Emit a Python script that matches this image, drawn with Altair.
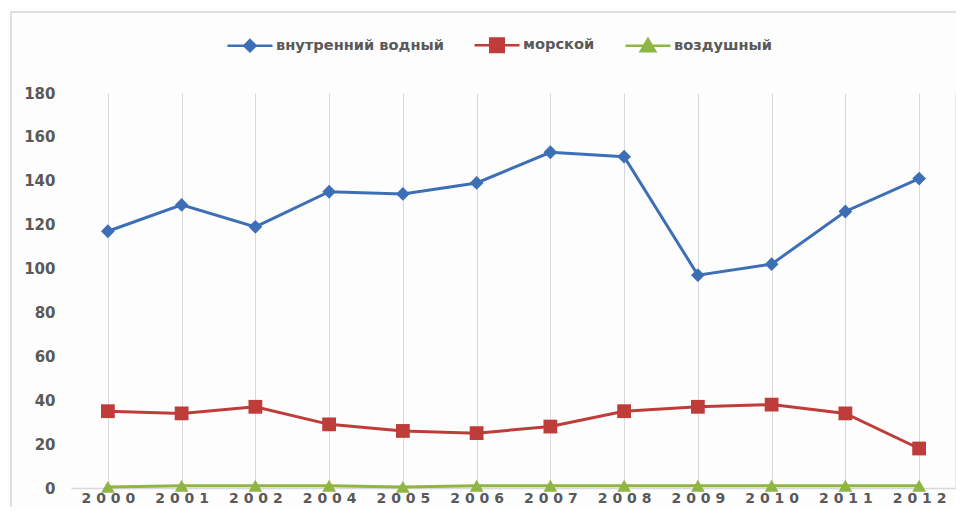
import altair as alt
import pandas as pd

years = ["2000", "2001", "2002", "2004", "2005", "2006", "2007", "2008", "2009", "2010", "2011", "2012"]
series_names = ["внутренний водный", "морской", "воздушный"]
inland = [117, 129, 119, 135, 134, 139, 153, 151, 97, 102, 126, 141]
sea = [35, 34, 37, 29, 26, 25, 28, 35, 37, 38, 34, 18]
air = [0.5, 1, 1, 1, 0.5, 1, 1, 1, 1, 1, 1, 1]
colors = ["#3d6fb6", "#be3c3a", "#8fb542"]
marker_shapes = ["diamond", "square", "triangle-up"]

rows = []
for name, vals in zip(series_names, [inland, sea, air]):
    for y, v in zip(years, vals):
        rows.append({"year": y, "series": name, "value": v})
df = pd.DataFrame(rows)

W, H = 885, 395
GRID = "#d9d9d9"
LABEL = "#595959"


def f(v):
    return f"{v:.3f}"


def diamond_path(ks, h):
    return "".join(f"M0,{f(-h*k)}L{f(h*k)},0L0,{f(h*k)}L{f(-h*k)},0Z" for k in ks)


def square_path(ks, h):
    return "".join(f"M{f(-h*k)},{f(-h*k)}H{f(h*k)}V{f(h*k)}H{f(-h*k)}Z" for k in ks)


def tri_path(ks, top, bot, hw, cy):
    out = ""
    for k in ks:
        out += (f"M0,{f(cy + (top - cy)*k)}L{f(hw*k)},{f(cy + (bot - cy)*k)}"
                f"H{f(-hw*k)}Z")
    return out


ks = [1.0, 0.7, 0.4, 0.12]
legend_paths = [
    "M-1,0H1" + diamond_path(ks, 0.25),
    "M-1,0H1" + square_path([1.0, 0.72, 0.44, 0.16], 0.30),
    "M-1,0H1" + tri_path(ks, -0.30, 0.24, 0.32, 0.06),
]

legend = alt.Legend(
    title=None, orient="none", direction="horizontal", legendX=155, legendY=-72,
    padding=0, symbolSize=2025, symbolStrokeWidth=2.5, columnPadding=25, labelOffset=2,
    labelFont="DejaVu Sans", labelFontSize=14.6, labelFontWeight="bold", labelColor=LABEL,
    labelLimit=400,
)
cscale = alt.Scale(domain=series_names, range=colors)

x = alt.X("year:O", sort=years, title=None,
          scale=alt.Scale(paddingInner=0, paddingOuter=0),
          axis=alt.Axis(labelAngle=0, ticks=False, domainColor=GRID, domainWidth=1.5,
                        grid=True, gridColor=GRID, gridWidth=1, bandPosition=0,
                        labelFont="DejaVu Sans", labelFontSize=14, labelFontWeight="bold",
                        labelColor=LABEL, labelPadding=3,
                        labelExpr="join(split(datum.label, ''), ' ')"))
y = alt.Y("value:Q", title=None, scale=alt.Scale(domain=[0, 180], nice=False),
          axis=alt.Axis(values=list(range(0, 181, 20)), grid=False, domain=False, ticks=False,
                        labelFont="DejaVu Sans", labelFontSize=15, labelFontWeight="bold",
                        labelColor=LABEL, labelPadding=16))

base = alt.Chart(df)
color_nolegend = alt.Color("series:N", scale=cscale, legend=None)
lines = base.mark_line(strokeWidth=3).encode(x=x, y=y, color=color_nolegend, detail="series:N")

point_layers = []
for name, shp in zip(series_names, marker_shapes):
    point_layers.append(
        base.transform_filter(alt.datum.series == name)
        .mark_point(filled=True, opacity=1, size=190, shape=shp)
        .encode(x=x, y=y, color=color_nolegend)
    )

legend_layer = base.mark_point(
    filled=True, size=2025, strokeWidth=2.5
).encode(
    x=x, y=y,
    fill=alt.Fill("series:N", scale=cscale, legend=legend),
    stroke=alt.Stroke("series:N", scale=cscale, legend=legend),
    shape=alt.Shape("series:N", scale=alt.Scale(domain=series_names, range=legend_paths), legend=legend),
    opacity=alt.value(0),
)

one = pd.DataFrame({"a": [0]})
right_rule = alt.Chart(one).mark_rule(color=GRID, strokeWidth=1).encode(
    x=alt.value(W), y=alt.value(0), y2=alt.value(H))
frame_left = alt.Chart(one).mark_rule(color="#d4d4d4", strokeWidth=1.5).encode(
    x=alt.value(-60), y=alt.value(-81), y2=alt.value(H + 40))
frame_top = alt.Chart(one).mark_rule(color="#d4d4d4", strokeWidth=1.5).encode(
    x=alt.value(-60), x2=alt.value(W + 20), y=alt.value(-81))

chart = alt.layer(legend_layer, right_rule, frame_left, frame_top, lines, *point_layers).properties(
    width=W, height=H,
    autosize=alt.AutoSizeParams(type="none"),
    padding={"left": 63, "top": 85, "right": 0, "bottom": 19},
    background="#fdfdfd",
).configure_view(stroke=None)

chart.save("out.html", embed_options={"renderer": "svg", "actions": False})
